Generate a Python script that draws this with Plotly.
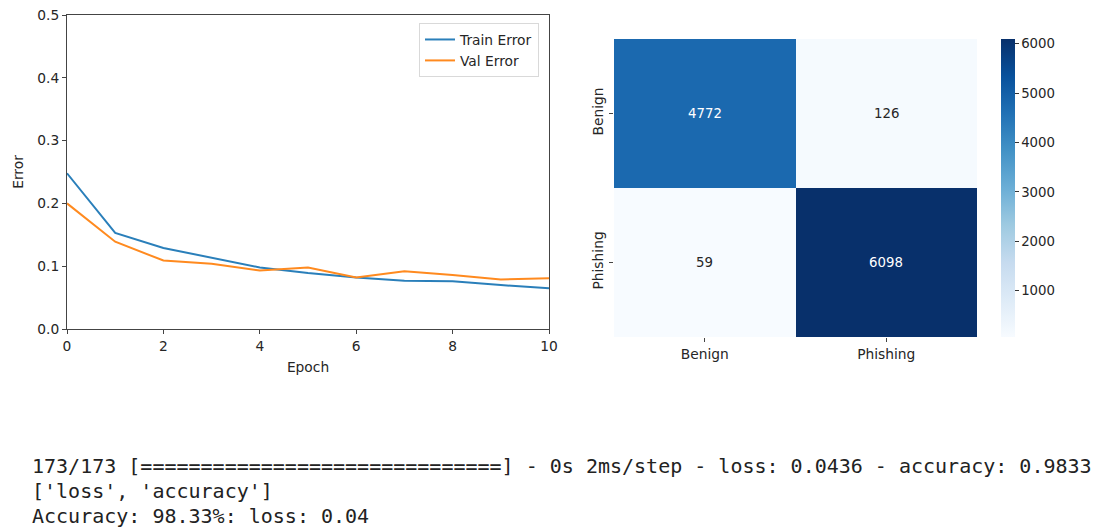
import plotly.graph_objects as go
import plotly.colors as pc

# Training history
epochs = list(range(11))
train_error = [0.248, 0.153, 0.129, 0.113, 0.098, 0.089, 0.082, 0.077, 0.076, 0.070, 0.065]
val_error = [0.200, 0.139, 0.109, 0.104, 0.093, 0.098, 0.082, 0.092, 0.086, 0.079, 0.081]

# Confusion matrix
class_labels = ["Benign", "Phishing"]
confusion = [[4772, 126],
             [59, 6098]]
cbar_ticks = [1000, 2000, 3000, 4000, 5000, 6000]

# Console output shown below the plots
console_lines = [
    "173/173 [" + "=" * 30 + "] - 0s 2ms/step - loss: 0.0436 - accuracy: 0.9833",
    "['loss', 'accuracy']",
    "Accuracy: 98.33%: loss: 0.04",
]

W, H = 1097, 529
FONT = "DejaVu Sans"
TXT = "#262626"
FS = 13.8

def px_x(p):
    return p / W

def px_y(p):
    return (H - p) / H

fig = go.Figure()

fig.add_trace(go.Scatter(x=epochs, y=train_error, mode="lines", name="Train Error",
                         line=dict(color="#2a7fba", width=2), xaxis="x", yaxis="y"))
fig.add_trace(go.Scatter(x=epochs, y=val_error, mode="lines", name="Val Error",
                         line=dict(color="#ff8a1f", width=2), xaxis="x", yaxis="y"))

zmin = min(min(r) for r in confusion)
zmax = max(max(r) for r in confusion)

fig.add_trace(go.Heatmap(
    z=confusion, x=class_labels, y=class_labels,
    colorscale=pc.sequential.Blues, zmin=zmin, zmax=zmax,
    xaxis="x2", yaxis="y2", showscale=True, hoverinfo="z",
    colorbar=dict(
        x=px_x(1001), xanchor="left", thickness=14, xpad=0, ypad=0,
        y=px_y(337), yanchor="bottom", len=(337 - 39) / H, lenmode="fraction",
        outlinewidth=0, tickvals=cbar_ticks, ticks="outside", ticklen=4,
        tickcolor="#333", tickfont=dict(family=FONT, size=FS - 0.5, color=TXT),
    ),
))

# Cell value labels
mid = (zmin + zmax) / 2
for i, row_lab in enumerate(class_labels):
    for j, col_lab in enumerate(class_labels):
        v = confusion[i][j]
        fig.add_annotation(x=col_lab, y=row_lab, xref="x2", yref="y2", text=str(v),
                           showarrow=False,
                           font=dict(family=FONT, size=FS - 0.5,
                                     color="white" if v > mid else TXT))

for k, line in enumerate(console_lines):
    fig.add_annotation(x=px_x(30), y=px_y(466 + 25 * k), xref="paper", yref="paper",
                       xanchor="left", yanchor="middle", text=line, showarrow=False,
                       font=dict(family="DejaVu Sans Mono", size=20, color="#222"))

axis_common = dict(showline=True, linecolor="#444", linewidth=1, mirror=True,
                   ticks="outside", ticklen=4, tickcolor="#444", showgrid=False,
                   zeroline=False, automargin=False,
                   tickfont=dict(family=FONT, size=FS, color=TXT))

fig.update_layout(
    width=W, height=H, margin=dict(l=0, r=0, t=0, b=0, autoexpand=False),
    paper_bgcolor="white", plot_bgcolor="white",
    font=dict(family=FONT, size=FS, color=TXT),
    xaxis=dict(domain=[px_x(67), px_x(549)], range=[0, 10], dtick=2,
               title=dict(text="Epoch", standoff=9, font=dict(size=FS)), anchor="y",
               **axis_common),
    yaxis=dict(domain=[px_y(329), px_y(15)], range=[0, 0.5], dtick=0.1, tickformat=".1f",
               title=dict(text="Error", standoff=10, font=dict(size=FS)), anchor="x",
               **axis_common),
    xaxis2=dict(domain=[px_x(614), px_x(977)], anchor="y2", showgrid=False, zeroline=False,
                ticks="outside", ticklen=4, tickcolor="#444", automargin=False,
                tickfont=dict(family=FONT, size=FS, color=TXT)),
    yaxis2=dict(domain=[px_y(337), px_y(39)], anchor="x2", autorange="reversed",
                showgrid=False, zeroline=False, ticks="outside", ticklen=4,
                tickcolor="#444", tickangle=-90, automargin=False,
                tickfont=dict(family=FONT, size=FS, color=TXT)),
    legend=dict(x=px_x(419), y=px_y(23), xanchor="left", yanchor="top",
                bgcolor="white", bordercolor="#d9d9d9", borderwidth=1,
                font=dict(family=FONT, size=FS, color=TXT),
                tracegroupgap=0, itemwidth=30),
    showlegend=True,
)

fig.write_html("out.html")
